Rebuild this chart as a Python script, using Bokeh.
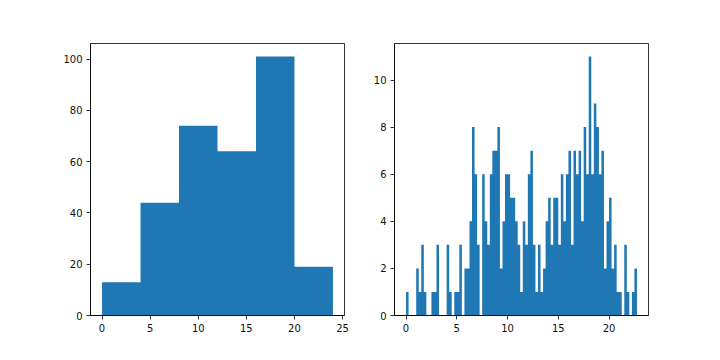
import numpy as np
from bokeh.plotting import figure
from bokeh.layouts import row
from bokeh.models import FixedTicker, Range1d
from bokeh.embed import file_html
from bokeh.resources import INLINE

# ---- data ----
# left histogram: bin edges and counts
left_edges = [0, 4, 8, 12, 16, 20, 24]
left_counts = [13, 44, 74, 64, 101, 19]

# right histogram: 91 bins of width 0.25 starting at 0
right_start = 0.0
right_width = 0.25
right_counts = [
    1, 0, 0, 0, 2, 1, 3, 1, 0, 0,
    1, 1, 3, 0, 0, 0, 3, 1, 0, 1,
    1, 3, 0, 2, 2, 4, 8, 6, 3, 0,
    6, 4, 3, 6, 7, 7, 8, 2, 4, 6,
    6, 5, 5, 4, 3, 1, 4, 3, 6, 7,
    3, 1, 3, 1, 2, 4, 5, 3, 5, 5,
    3, 6, 4, 6, 7, 3, 7, 6, 7, 4,
    8, 6, 11, 6, 9, 8, 6, 7, 2, 4,
    5, 2, 3, 1, 1, 0, 3, 1, 0, 1,
    2,
]

left_xticks = [0, 5, 10, 15, 20, 25]
left_yticks = [0, 20, 40, 60, 80, 100]
right_xticks = [0, 5, 10, 15, 20]
right_yticks = [0, 2, 4, 6, 8, 10]

BAR = "#1f77b4"
FONT = "DejaVu Sans"


def style(p, xticks, yticks):
    p.toolbar_location = None
    p.grid.visible = False
    p.outline_line_color = "black"
    p.outline_line_width = 0.8
    p.background_fill_color = "white"
    p.border_fill_color = "white"
    for ax in (p.xaxis[0], p.yaxis[0]):
        ax.axis_line_color = "black"
        ax.axis_line_width = 0.8
        ax.major_tick_line_color = "black"
        ax.major_tick_line_width = 0.8
        ax.major_tick_out = 4
        ax.major_tick_in = 0
        ax.minor_tick_line_color = None
        ax.major_label_text_font = FONT
        ax.major_label_text_font_size = "10px"
        ax.major_label_text_color = "#111111"
        ax.major_label_standoff = 4
    p.xaxis[0].ticker = FixedTicker(ticks=xticks)
    p.yaxis[0].ticker = FixedTicker(ticks=yticks)


def hist_fig(edges, counts, border_left, border_right):
    span = edges[-1] - edges[0]
    p = figure(
        output_backend="svg",
        toolbar_location=None,
        frame_width=254,
        frame_height=272,
        min_border_left=border_left,
        min_border_right=border_right,
        min_border_top=43,
        min_border_bottom=40,
        x_range=Range1d(edges[0] - 0.05 * span, edges[-1] + 0.05 * span),
        y_range=Range1d(0, max(counts) * 1.05),
    )
    # one filled step area: the histogram as a single shape (no seams)
    p.varea_step(x=list(edges), y1=[0] * len(edges),
                 y2=list(counts) + [counts[-1]],
                 step_mode="after", fill_color=BAR)
    return p


# left figure
p1 = hist_fig(left_edges, left_counts, 90, 25)
style(p1, left_xticks, left_yticks)

# right figure
n = len(right_counts)
redges = list(right_start + right_width * np.arange(n + 1))
p2 = hist_fig(redges, right_counts, 25, 50)
style(p2, right_xticks, right_yticks)

layout = row(p1, p2)

with open("out.html", "w") as f:
    f.write(file_html(layout, INLINE))
